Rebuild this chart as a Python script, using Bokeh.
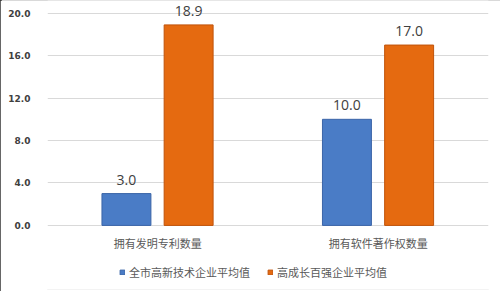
from bokeh.plotting import figure
from bokeh.models import ColumnDataSource, FactorRange, Range1d, FixedTicker, LabelSet, Legend, LegendItem, CustomJSTickFormatter
from bokeh.core.properties import value
from bokeh.transform import dodge
from bokeh.embed import file_html
from bokeh.resources import INLINE

categories = ["拥有发明专利数量", "拥有软件著作权数量"]
series_names = ["全市高新技术企业平均值", "高成长百强企业平均值"]
city_avg = [3.0, 10.0]
top100_avg = [18.9, 17.0]
y_ticks = [0, 4, 8, 12, 16, 20]

FONT = "Noto Sans CJK SC"

src = ColumnDataSource(data=dict(
    cat=categories,
    a=city_avg,
    b=top100_avg,
    a_lbl=[f"{v:.1f}" for v in city_avg],
    b_lbl=[f"{v:.1f}" for v in top100_avg],
))

# frame spans the full height; the area below 0 holds category labels and legend
p = figure(width=500, height=291, x_range=FactorRange(*categories, range_padding=0),
           y_range=Range1d(-6.04, 21.2), output_backend="svg", toolbar_location=None,
           min_border_left=47, min_border_right=12, min_border_top=0, min_border_bottom=2)
p.styles = {"box-shadow": "inset 2px 0 0 #333, inset 0 1px 0 #ccc, inset 0 -2px 0 #ccc"}

r1 = p.vbar(x=dodge("cat", -0.142, range=p.x_range), top="a", width=0.222, source=src,
            fill_color="#4A7CC6", line_color="#3B65A8", line_width=1)
r2 = p.vbar(x=dodge("cat", 0.14, range=p.x_range), top="b", width=0.222, source=src,
            fill_color="#E56A10", line_color="#C0530A", line_width=1)

for col, off in (("a", -0.142), ("b", 0.14)):
    ls = LabelSet(x=dodge("cat", off, range=p.x_range), y=col, text=col + "_lbl", source=src,
                  y_offset=9, text_align="center", text_baseline="bottom",
                  text_font=value("Open Sans"), text_font_size="14px", text_color="#404040")
    p.add_layout(ls)

# category labels under the bars
p.text(x="cat", y=-1.7, text="cat", source=src, text_align="center", text_baseline="middle",
       text_font=value(FONT), text_font_size="11px", text_color="#595959")

p.yaxis.ticker = FixedTicker(ticks=y_ticks)
p.yaxis.formatter = CustomJSTickFormatter(code="return tick.toFixed(1);")
p.yaxis.axis_line_color = None
p.yaxis.major_tick_line_color = None
p.yaxis.minor_tick_line_color = None
p.yaxis.major_label_standoff = 11
p.yaxis.major_label_text_font = "DejaVu Sans"
p.yaxis.major_label_text_font_size = "9px"
p.yaxis.major_label_text_font_style = "bold"
p.yaxis.major_label_text_color = "#404040"

p.xaxis.visible = False

p.xgrid.grid_line_color = None
p.ygrid.ticker = FixedTicker(ticks=y_ticks)
p.ygrid.grid_line_color = "#D9D9D9"
p.ygrid.grid_line_width = 1
p.outline_line_color = None

legend = Legend(items=[LegendItem(label=series_names[0], renderers=[r1]),
                       LegendItem(label=series_names[1], renderers=[r2])],
                orientation="horizontal", location=(72, 9),
                label_text_font=FONT, label_text_font_size="11px", label_text_color="#595959",
                glyph_width=6, glyph_height=6, label_standoff=4, spacing=17,
                label_height=12, border_line_color=None, background_fill_alpha=0, margin=0, padding=2)
p.add_layout(legend, "center")

open("out.html", "w").write(file_html(p, INLINE))
